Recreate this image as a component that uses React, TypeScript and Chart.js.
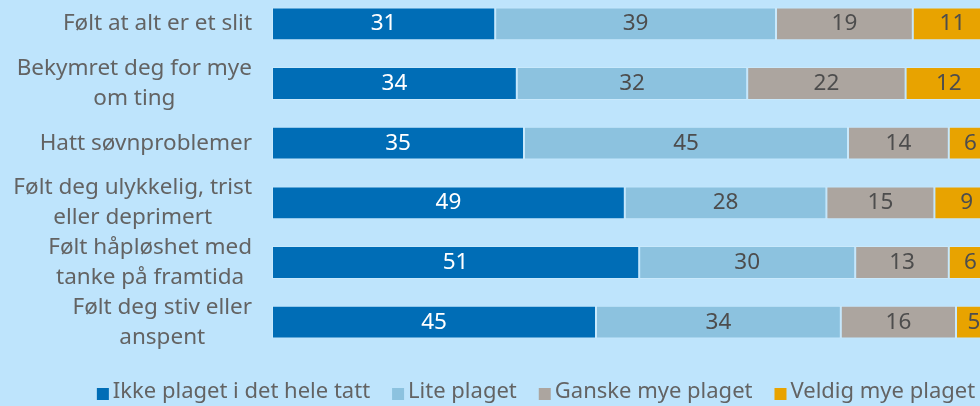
import React, { useEffect, useRef } from "react";
import { Chart, registerables } from "chart.js";

Chart.register(...registerables);

const categories: string[][] = [
  ["Følt at alt er et slit"],
  ["Bekymret deg for mye", "om ting"],
  ["Hatt søvnproblemer"],
  ["Følt deg ulykkelig, trist", "eller deprimert"],
  ["Følt håpløshet med", "tanke på framtida"],
  ["Følt deg stiv eller", "anspent"],
];
const seriesNames = [
  "Ikke plaget i det hele tatt",
  "Lite plaget",
  "Ganske mye plaget",
  "Veldig mye plaget",
];
const ikkePlaget = [31, 34, 35, 49, 51, 45];
const litePlaget = [39, 32, 45, 28, 30, 34];
const ganskeMye = [19, 22, 14, 15, 13, 16];
const veldigMye = [11, 12, 6, 9, 6, 5];

const colors = ["#006db6", "#8cc2df", "#aca59f", "#e8a300"];
const labelColors = ["#ffffff", "#4d4d4d", "#4d4d4d", "#4d4d4d"];
const BG = "#bee4fc";
const TEXT = "#636363";
const FONT = "'Noto Sans', Roboto, sans-serif";

export default function App() {
  const ref = useRef<HTMLCanvasElement | null>(null);

  useEffect(() => {
    const canvas = ref.current;
    if (!canvas) return;

    const customDraw = {
      id: "customDraw",
      afterDatasetsDraw(chart: any) {
        const ctx = chart.ctx;
        ctx.save();
        // data labels
        ctx.font = `22.5px ${FONT}`;
        ctx.textAlign = "center";
        ctx.textBaseline = "middle";
        chart.data.datasets.forEach((ds: any, di: number) => {
          const meta = chart.getDatasetMeta(di);
          meta.data.forEach((bar: any, i: number) => {
            const { x, base, y } = bar.getProps(["x", "base", "y"], true);
            const cx = (x + base) / 2;
            ctx.fillStyle = labelColors[di];
            ctx.fillText(String(ds.data[i]), cx, y);
          });
        });
        // y labels
        const yScale = chart.scales.y;
        const rightEdge = chart.chartArea.left - 20;
        const lineH = 30;
        categories.forEach((lines, i) => {
          const cy = yScale.getPixelForValue(i);
          const widths = lines.map((l) => ctx.measureText(l).width);
          const blockW = Math.max(...widths);
          const cx = rightEdge - blockW / 2;
          const startY = cy - ((lines.length - 1) * lineH) / 2;
          ctx.fillStyle = TEXT;
          lines.forEach((l, li) => {
            ctx.fillText(l, cx, startY + li * lineH);
          });
        });
        // legend
        ctx.font = `22px ${FONT}`;
        const box = 12;
        const gapBoxText = 4;
        const gapItems = 22;
        const widths = seriesNames.map((n) => ctx.measureText(n).width);
        const total =
          widths.reduce((a, b) => a + b, 0) +
          seriesNames.length * (box + gapBoxText) +
          (seriesNames.length - 1) * gapItems;
        let lx = 536 - total / 2;
        const ly = chart.height - 20;
        ctx.textAlign = "left";
        seriesNames.forEach((n, k) => {
          ctx.fillStyle = colors[k];
          ctx.fillRect(lx, ly - 4, box, box);
          lx += box + gapBoxText;
          ctx.fillStyle = TEXT;
          ctx.fillText(n, lx, ly);
          lx += widths[k] + gapItems;
        });
        ctx.restore();
      },
    };

    const values = [ikkePlaget, litePlaget, ganskeMye, veldigMye];
    const chart = new Chart(canvas, {
      type: "bar",
      data: {
        labels: categories.map((c) => c.join(" ")),
        datasets: seriesNames.map((name, k) => ({
          label: name,
          data: values[k],
          backgroundColor: colors[k],
          borderColor: "rgba(255,255,255,0.18)",
          borderWidth: 1,
          borderSkipped: false,
          barPercentage: 0.55,
          categoryPercentage: 1,
        })),
      },
      options: {
        indexAxis: "y",
        animation: false,
        responsive: false,
        maintainAspectRatio: false,
        layout: { padding: { left: 272, right: 8, top: 2, bottom: 60 } },
        plugins: {
          legend: { display: false },
          tooltip: { enabled: false },
        },
        scales: {
          x: {
            stacked: true,
            min: 0,
            max: 100,
            display: false,
          },
          y: {
            stacked: true,
            display: false,
          },
        },
      },
      plugins: [customDraw],
    });
    return () => chart.destroy();
  }, []);

  return (
    <div
      style={{
        position: "fixed",
        left: 0,
        top: 0,
        width: 980,
        height: 406,
        overflow: "hidden",
        background: BG,
      }}
    >
      <canvas
        ref={ref}
        width={1000}
        height={420}
        style={{ position: "absolute", left: 0, top: -8, width: 1000, height: 420 }}
      />
    </div>
  );
}
